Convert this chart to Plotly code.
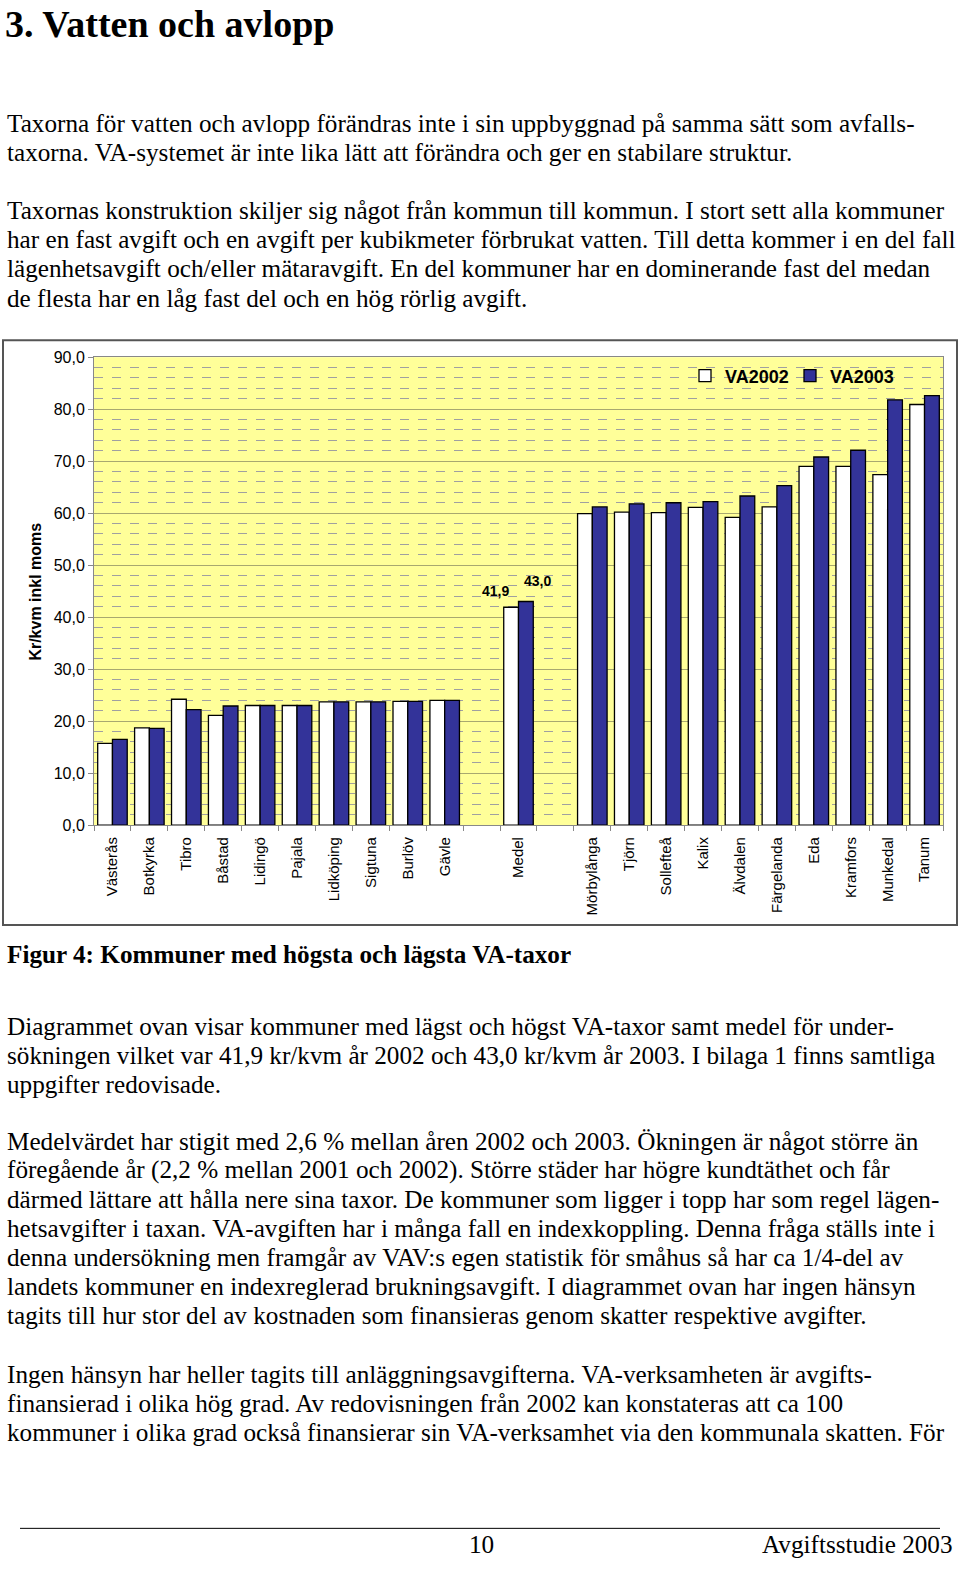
import plotly.graph_objects as go

W, H = 960, 1569

# chart data
kommuner_lag = ["Västerås", "Botkyrka", "Tibro", "Båstad", "Lidingö", "Pajala",
                "Lidköping", "Sigtuna", "Burlöv", "Gävle"]
kommuner_hog = ["Mörbylånga", "Tjörn", "Sollefteå", "Kalix", "Älvdalen",
                "Färgelanda", "Eda", "Kramfors", "Munkedal", "Tanum"]
va2002_lag = [15.7, 18.7, 24.2, 21.1, 23.0, 23.0, 23.7, 23.7, 23.8, 24.0]
va2003_lag = [16.5, 18.6, 22.2, 22.9, 23.0, 23.0, 23.7, 23.7, 23.8, 24.0]
medel_2002 = 41.9
medel_2003 = 43.0
va2002_hog = [59.9, 60.2, 60.1, 61.1, 59.2, 61.2, 69.0, 69.0, 67.4, 80.9]
va2003_hog = [61.2, 61.8, 62.0, 62.2, 63.3, 65.3, 70.8, 72.1, 81.8, 82.6]

categories = kommuner_lag + [" ", "Medel", "  "] + kommuner_hog
va2002 = va2002_lag + [None, medel_2002, None] + va2002_hog
va2003 = va2003_lag + [None, medel_2003, None] + va2003_hog

# page text
rubrik = "3. Vatten och avlopp"
stycke1 = [
    "Taxorna för vatten och avlopp förändras inte i sin uppbyggnad på samma sätt som avfalls-",
    "taxorna. VA-systemet är inte lika lätt att förändra och ger en stabilare struktur.",
]
stycke2 = [
    "Taxornas konstruktion skiljer sig något från kommun till kommun. I stort sett alla kommuner",
    "har en fast avgift och en avgift per kubikmeter förbrukat vatten. Till detta kommer i en del fall",
    "lägenhetsavgift och/eller mätaravgift. En del kommuner har en dominerande fast del medan",
    "de flesta har en låg fast del och en hög rörlig avgift.",
]
figurtext = "Figur 4: Kommuner med högsta och lägsta VA-taxor"
stycke3 = [
    "Diagrammet ovan visar kommuner med lägst och högst VA-taxor samt medel för under-",
    "sökningen vilket var 41,9 kr/kvm år 2002 och 43,0 kr/kvm år 2003. I bilaga 1 finns samtliga",
    "uppgifter redovisade.",
]
stycke4 = [
    "Medelvärdet har stigit med 2,6 % mellan åren 2002 och 2003. Ökningen är något större än",
    "föregående år (2,2 % mellan 2001 och 2002). Större städer har högre kundtäthet och får",
    "därmed lättare att hålla nere sina taxor. De kommuner som ligger i topp har som regel lägen-",
    "hetsavgifter i taxan. VA-avgiften har i många fall en indexkoppling. Denna fråga ställs inte i",
    "denna undersökning men framgår av VAV:s egen statistik för småhus så har ca 1/4-del av",
    "landets kommuner en indexreglerad brukningsavgift. I diagrammet ovan har ingen hänsyn",
    "tagits till hur stor del av kostnaden som finansieras genom skatter respektive avgifter.",
]
stycke5 = [
    "Ingen hänsyn har heller tagits till anläggningsavgifterna. VA-verksamheten är avgifts-",
    "finansierad i olika hög grad. Av redovisningen från 2002 kan konstateras att ca 100",
    "kommuner i olika grad också finansierar sin VA-verksamhet via den kommunala skatten. För",
]


# page pixel -> paper fraction
def px(x):
    return x / W


def py(y):
    return 1 - y / H


SERIF = "Liberation Serif, Times New Roman, serif"
SANS = "Liberation Sans, Arial, sans-serif"
FS = 25.2

fig = go.Figure()
fig.add_trace(go.Bar(x=categories, y=va2002, name="<b>VA2002</b>",
                     marker=dict(color="white", line=dict(color="black", width=1.3))))
fig.add_trace(go.Bar(x=categories, y=va2003, name="<b>VA2003</b>",
                     marker=dict(color="#333399", line=dict(color="black", width=1.3))))

ann = []


def text_line(txt, x, y, size=FS, bold=False, anchor="left"):
    if bold:
        txt = "<b>" + txt + "</b>"
    ann.append(dict(text=txt, x=px(x), y=py(y), xref="paper", yref="paper",
                    xanchor=anchor, yanchor="middle", showarrow=False,
                    font=dict(family=SERIF, size=size, color="black")))


text_line(rubrik, 3, 16, size=38, bold=True)
for i, t in enumerate(stycke1):
    text_line(t, 5, 117 + i * 29.3)
for i, t in enumerate(stycke2):
    text_line(t, 5, 205 + i * 29.4)
text_line(figurtext, 5, 957, bold=True)
for i, t in enumerate(stycke3):
    text_line(t, 5, 1029.5 + i * 29.3)
for i, t in enumerate(stycke4):
    text_line(t, 5, 1145.5 + i * 29.4)
for i, t in enumerate(stycke5):
    text_line(t, 5, 1381 + i * 29.4)
text_line("10", 481, 1553, anchor="center")
text_line("Avgiftsstudie 2003", 955, 1553, anchor="right")

# data labels for Medel
ann.append(dict(text="<b>41,9</b>", x="Medel", y=medel_2002, xref="x", yref="y",
                xshift=-23, yshift=16, showarrow=False,
                font=dict(family=SANS, size=14, color="black")))
ann.append(dict(text="<b>43,0</b>", x="Medel", y=medel_2003, xref="x", yref="y",
                xshift=19, yshift=21, showarrow=False,
                font=dict(family=SANS, size=14, color="black")))
# y axis title
ann.append(dict(text="<b>Kr/kvm inkl moms</b>", x=px(36), y=py(590), xref="paper",
                yref="paper", xanchor="center", yanchor="middle", textangle=-90,
                showarrow=False, font=dict(family=SANS, size=16, color="black")))

shapes = [
    dict(type="rect", xref="paper", yref="paper", x0=px(3), x1=px(957), y0=py(927), y1=py(336),
         line=dict(color="#555555", width=2), layer="below"),
    dict(type="line", xref="paper", yref="paper", x0=px(20), x1=px(940), y0=py(1537), y1=py(1537),
         line=dict(color="black", width=1)),
]

fig.update_layout(
    width=W, height=H,
    margin=dict(l=0, r=0, t=0, b=0),
    paper_bgcolor="white",
    plot_bgcolor="#FFFF99",
    separators=", ",
    barmode="group",
    bargap=0.2,
    bargroupgap=0,
    showlegend=True,
    legend=dict(orientation="h", x=px(685), y=py(372), xanchor="left", yanchor="middle",
                bgcolor="rgba(0,0,0,0)", font=dict(family=SANS, size=18, color="black"),
                itemwidth=30, entrywidth=60, entrywidthmode="pixels", traceorder="normal"),
    annotations=ann,
    shapes=shapes,
    xaxis=dict(domain=[px(94), px(943)], type="category", tickangle=-90,
               tickfont=dict(family=SANS, size=15, color="black"), ticklabelstandoff=5,
               showline=True, linecolor="#888888", linewidth=1, mirror=True,
               ticks="outside", ticklen=5, tickcolor="#888888", tickson="boundaries",
               showgrid=False, fixedrange=True),
    yaxis=dict(domain=[py(826), py(353)], range=[0, 90], dtick=10, tickformat=".1f",
               tickfont=dict(family=SANS, size=16, color="black"),
               showline=True, linecolor="#888888", linewidth=1, mirror=True,
               ticks="outside", ticklen=5, tickcolor="#888888",
               showgrid=True, gridcolor="#A8A870", gridwidth=1, zeroline=False,
               minor=dict(dtick=2, showgrid=True, gridcolor="#A0A0A0",
                          griddash="dash", gridwidth=1), fixedrange=True),
)

# the page itself should have no margin, so the figure fills the window exactly
fig.write_html("out.html", config={"displayModeBar": False},
               post_script="document.body.style.margin='0';document.body.style.overflow='hidden';")
